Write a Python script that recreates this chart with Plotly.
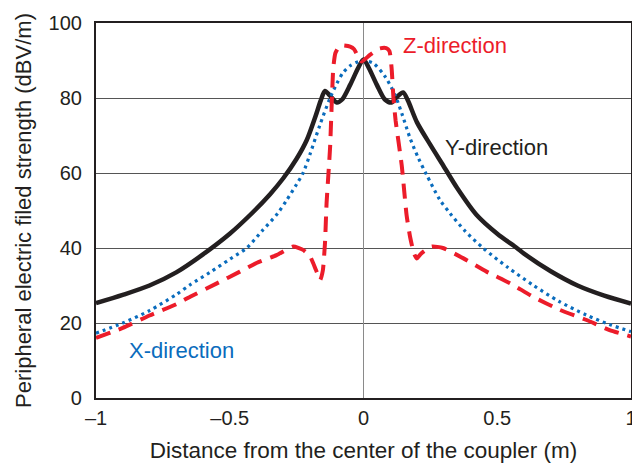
import plotly.graph_objects as go

# ---- data ----
y_dir_x = [-1.0, -0.9, -0.8, -0.7, -0.6, -0.5, -0.424, -0.35, -0.3, -0.25, -0.212, -0.18, -0.16, -0.144, -0.125, -0.1,
           -0.08, -0.05, -0.02, 0.0, 0.02, 0.05, 0.08, 0.105, 0.125, 0.148, 0.165, 0.2, 0.25, 0.298, 0.35, 0.423,
           0.5, 0.573, 0.6, 0.7, 0.8, 0.9, 1.0]
y_dir_y = [25.3, 27.5, 30.0, 33.5, 38.3, 43.8, 48.8, 54.3, 58.6, 63.8, 68.8, 75.0, 79.3, 81.9, 80.6, 78.8,
           79.6, 83.5, 88.0, 90.3, 88.0, 83.5, 79.6, 78.8, 80.3, 81.5, 79.5, 73.5, 67.5, 62.0, 56.0, 48.8,
           43.8, 40.0, 38.5, 33.8, 30.0, 27.3, 25.2]

x_dir_x = [-1.0, -0.9, -0.8, -0.7, -0.648, -0.574, -0.5, -0.437, -0.38, -0.32, -0.287, -0.25, -0.226, -0.2, -0.163,
           -0.125, -0.1, -0.077, -0.05, -0.02, 0.0, 0.036, 0.08, 0.118, 0.145, 0.174, 0.205, 0.236, 0.286, 0.323,
           0.38, 0.447, 0.54, 0.634, 0.73, 0.834, 0.92, 1.0]
x_dir_y = [17.3, 20.0, 23.3, 27.6, 30.2, 33.5, 37.0, 40.0, 44.5, 49.3, 52.8, 57.0, 60.0, 65.0, 72.8,
           80.0, 83.8, 86.7, 88.6, 89.7, 90.0, 89.3, 85.8, 80.8, 75.5, 69.3, 64.0, 59.5, 52.8, 49.3,
           44.5, 40.0, 34.8, 30.1, 25.8, 22.1, 19.6, 17.7]

z_dir_x = [-1.0, -0.9, -0.8, -0.7, -0.648, -0.55, -0.462, -0.4, -0.325, -0.263, -0.226, -0.2, -0.178, -0.162,
           -0.152, -0.144, -0.138, -0.125, -0.113, -0.105, -0.09, -0.075, -0.05, -0.035, -0.02, -0.007,
           0.024, 0.06, 0.085, 0.097, 0.105, 0.112, 0.12, 0.143, 0.161, 0.174, 0.188, 0.199, 0.215,
           0.255, 0.297, 0.372, 0.46, 0.548, 0.634, 0.734, 0.834, 0.92, 1.0]
z_dir_y = [16.0, 18.7, 22.0, 25.0, 27.0, 30.5, 33.7, 36.0, 38.1, 40.4, 39.5, 37.8, 34.2, 31.5,
           34.0, 41.3, 52.0, 66.7, 88.0, 92.0, 93.8, 94.0, 93.7, 93.0, 91.0, 89.7,
           91.5, 93.2, 93.3, 92.5, 88.0, 80.0, 74.0, 62.0, 48.8, 43.0, 38.7, 37.2, 38.5,
           40.4, 40.0, 37.3, 33.7, 30.6, 27.0, 23.5, 20.8, 18.1, 16.4]

x_tick_vals = [-1, -0.5, 0, 0.5, 1]
x_tick_text = ["\u20131", "\u20130.5", "0", "0.5", "1"]
y_tick_vals = [0, 20, 40, 60, 80, 100]

BLACK = "#231f20"
BLUE = "#0a6cbd"
RED = "#ec1c2a"
FONT = "Liberation Sans, Arial, sans-serif"

fig = go.Figure()
fig.add_trace(go.Scatter(x=y_dir_x, y=y_dir_y, mode="lines", name="Y-direction",
                         line=dict(color=BLACK, width=4.5, shape="spline", smoothing=0.8)))
fig.add_trace(go.Scatter(x=x_dir_x, y=x_dir_y, mode="lines", name="X-direction",
                         line=dict(color=BLUE, width=3.2, dash="3px,4px", shape="spline", smoothing=0.8)))
fig.add_trace(go.Scatter(x=z_dir_x, y=z_dir_y, mode="lines", name="Z-direction",
                         line=dict(color=RED, width=4, dash="15px,9px", shape="spline", smoothing=0.5)))

fig.add_annotation(x=0.342, y=94.0, text="Z-direction", showarrow=False,
                   font=dict(color=RED, size=22, family=FONT))
fig.add_annotation(x=0.499, y=66.7, text="Y-direction", showarrow=False,
                   font=dict(color=BLACK, size=22, family=FONT))
fig.add_annotation(x=-0.682, y=12.8, text="X-direction", showarrow=False,
                   font=dict(color=BLUE, size=22, family=FONT))

# the page body adds an 8px offset, so the figure is 632x456 with margins adjusted
fig.update_layout(
    width=632, height=456,
    margin=dict(l=88, r=9, t=15, b=66, autoexpand=False),
    paper_bgcolor="white", plot_bgcolor="white",
    showlegend=False,
    font=dict(family=FONT, color=BLACK, size=20),
)
fig.update_xaxes(
    range=[-1, 1], tickvals=x_tick_vals, ticktext=x_tick_text,
    showgrid=False,
    zeroline=True, zerolinecolor="#8a8a8a", zerolinewidth=1.2,
    showline=True, linecolor=BLACK, linewidth=2.2, mirror=True,
    ticks="", ticklabelstandoff=1, automargin=False,
    tickfont=dict(size=20, color=BLACK),
    title=dict(text="Distance from the center of the coupler (m)", font=dict(size=22.5, color=BLACK), standoff=14),
)
fig.update_yaxes(
    range=[0, 100], tickvals=y_tick_vals,
    showgrid=True, gridcolor="#555555", gridwidth=1.2,
    zeroline=False,
    showline=True, linecolor=BLACK, linewidth=2.2, mirror=True,
    ticks="", ticklabelstandoff=8, automargin=False,
    tickfont=dict(size=20, color=BLACK),
    title=dict(text="Peripheral electric filed strength (dBV/m)", font=dict(size=22, color=BLACK), standoff=11),
)

fig.write_html("out.html")
